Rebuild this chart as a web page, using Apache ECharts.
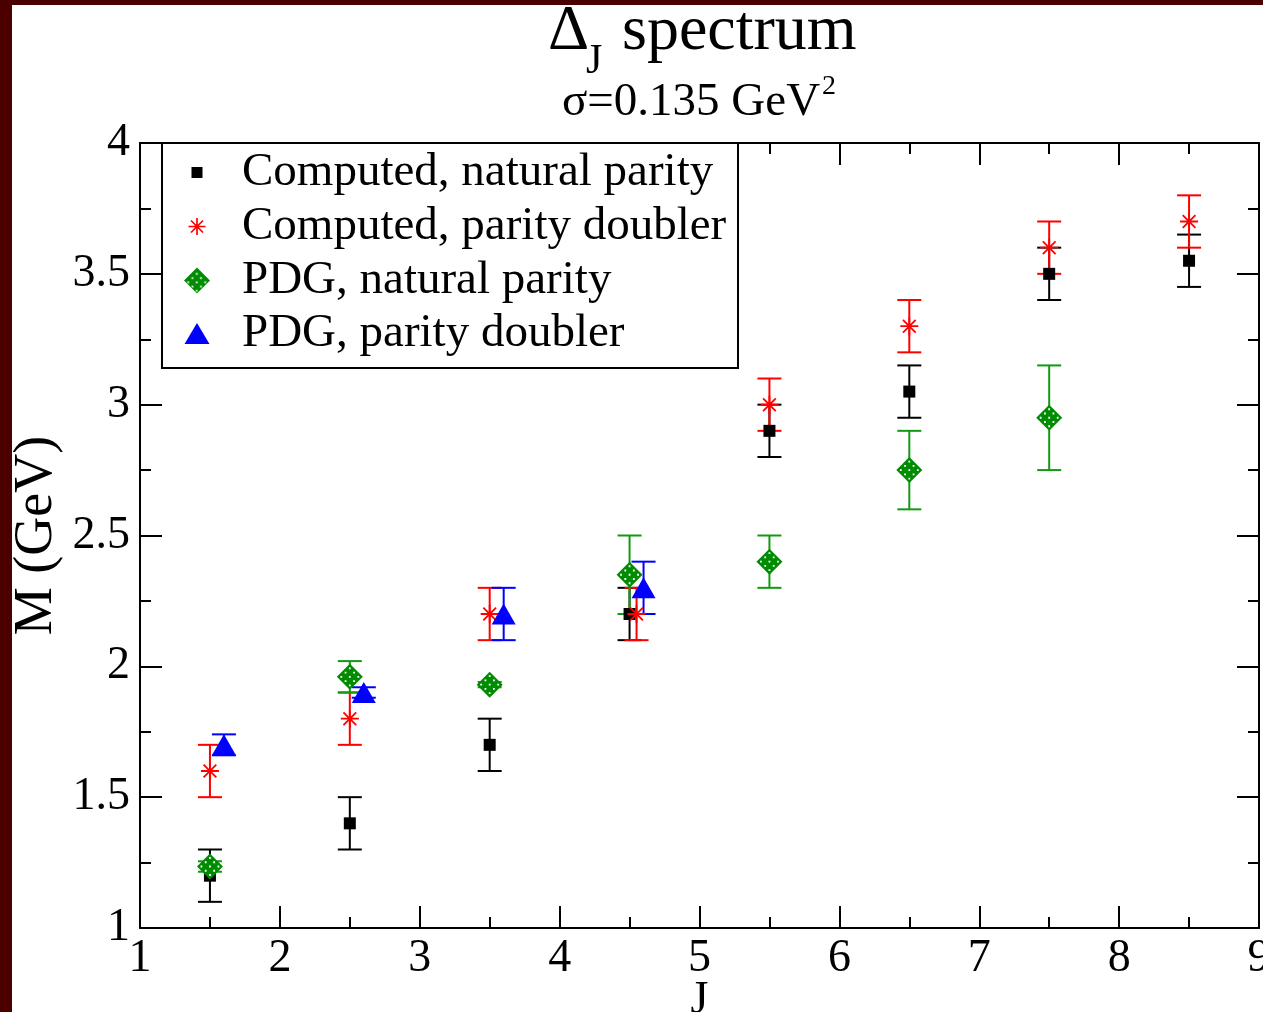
<!DOCTYPE html>
<html>
<head>
<meta charset="utf-8">
<script src="https://cdn.jsdelivr.net/npm/echarts@6/dist/echarts.min.js"></script>
<style>
  html, body { margin: 0; padding: 0; background: #4b0000; width: 1263px; height: 1012px; overflow: hidden; }
  #main { position: absolute; left: 12px; top: 5px; width: 1251px; height: 1007px; background: #fff; }
</style>
</head>
<body>
<div id="main"></div>
<script>
// Computed, natural parity
const natJ = [1.5, 2.5, 3.5, 4.5, 5.5, 6.5, 7.5, 8.5];
const natM = [1.2, 1.4, 1.7, 2.2, 2.9, 3.05, 3.5, 3.55];
const natErr = [0.1, 0.1, 0.1, 0.1, 0.1, 0.1, 0.1, 0.1];

// Computed, parity doubler
const dblJ = [1.5, 2.5, 3.5, 4.55, 5.5, 6.5, 7.5, 8.5];
const dblM = [1.6, 1.8, 2.2, 2.2, 3.0, 3.3, 3.6, 3.7];
const dblErr = [0.1, 0.1, 0.1, 0.1, 0.1, 0.1, 0.1, 0.1];

// PDG, natural parity
const pdgNatJ = [1.5, 2.5, 3.5, 4.5, 5.5, 6.5, 7.5];
const pdgNatM = [1.235, 1.96, 1.93, 2.35, 2.4, 2.75, 2.95];
const pdgNatErr = [0.02, 0.06, 0.01, 0.15, 0.1, 0.15, 0.2];

// PDG, parity doubler
const pdgDblJ = [1.6, 2.6, 3.6, 4.6];
const pdgDblM = [1.7, 1.9, 2.2, 2.3];
const pdgDblErr = [0.04, 0.02, 0.1, 0.1];

const seriesNames = ['Computed, natural parity', 'Computed, parity doubler', 'PDG, natural parity', 'PDG, parity doubler'];

const SQUARE = 'path://M0,0L10,0L10,10L0,10Z';
const STAR = 'path://M9,0L11,0L11,20L9,20Z M0,9L20,9L20,11L0,11Z M2.22,3.64L3.64,2.22L17.78,16.36L16.36,17.78Z M16.36,2.22L17.78,3.64L3.64,17.78L2.22,16.36Z';
const DIAMOND = 'path://M10,0L20,10L10,20L0,10Z';
const TRIANGLE = 'path://M12,0L24,20L0,20Z';

// white dot pattern laid over the green diamonds
const dotCenters = [[13, 13], [17.24, 17.24], [8.76, 8.76], [17.24, 8.76], [8.76, 17.24], [21.5, 13], [4.5, 13], [13, 21.5], [13, 4.5]];
const DOTS = 'path://' + dotCenters.map(function (c) {
  const x = c[0] - 0.9, y = c[1] - 0.9;
  return 'M' + x + ',' + y + 'L' + (x + 1.8) + ',' + y + 'L' + (x + 1.8) + ',' + (y + 1.8) + 'L' + x + ',' + (y + 1.8) + 'Z';
}).join(' ');

const FONT = 'Liberation Serif';

const chart = echarts.init(document.getElementById('main'));

const toPoints = (js, ms) => js.map((j, i) => [j, ms[i]]);
const toBars = (js, ms, es) => js.map((j, i) => [j, ms[i] - es[i], ms[i] + es[i]]);

function renderErrorBar(params, api) {
  const x = api.value(0);
  const lo = api.coord([x, api.value(1)]);
  const hi = api.coord([x, api.value(2)]);
  const half = 12;
  const style = { stroke: api.visual('color'), lineWidth: 2 };
  return {
    type: 'group',
    children: [
      { type: 'line', shape: { x1: lo[0], y1: lo[1], x2: hi[0], y2: hi[1] }, style: style },
      { type: 'line', shape: { x1: lo[0] - half, y1: lo[1], x2: lo[0] + half, y2: lo[1] }, style: style },
      { type: 'line', shape: { x1: hi[0] - half, y1: hi[1], x2: hi[0] + half, y2: hi[1] }, style: style }
    ]
  };
}

const errSeries = (name, color, data) => ({
  name: name,
  type: 'custom',
  renderItem: renderErrorBar,
  itemStyle: { color: color },
  encode: { x: 0, y: [1, 2] },
  data: data,
  silent: true
});

const axisCommon = {
  axisLine: { lineStyle: { color: '#000', width: 2 } },
  axisTick: { inside: true, length: 22, lineStyle: { color: '#000', width: 2 } },
  minorTick: { show: true, splitNumber: 2, length: 11, lineStyle: { color: '#000', width: 2 } },
  splitLine: { show: false },
  minorSplitLine: { show: false }
};

const labelStyle = { fontFamily: FONT, fontSize: 46, color: '#000' };

// one legend per entry so each icon keeps its own size
const legendItem = (name, icon, w, h, centerY) => ({
  data: [{ name: name, icon: icon }],
  left: 185 - w / 2,
  top: centerY - 23,
  itemWidth: w,
  itemHeight: h,
  padding: 0,
  selectedMode: false,
  textStyle: { fontFamily: FONT, fontSize: 47, lineHeight: 46, color: '#000', padding: [0, 0, 0, 40 - w / 2] }
});

const option = {
  animation: false,
  grid: { left: 128, right: 4, top: 138, bottom: 84, outerBoundsMode: 'none' },
  graphic: [
    { type: 'text', x: 536, y: 27, z: 10, style: { text: 'Δ', fontFamily: FONT, fontSize: 64, fill: '#000', verticalAlign: 'middle' } },
    { type: 'text', x: 574, y: 57, z: 10, style: { text: 'J', fontFamily: FONT, fontSize: 42, fill: '#000', verticalAlign: 'middle' } },
    { type: 'text', x: 610, y: 27, z: 10, style: { text: 'spectrum', fontFamily: FONT, fontSize: 64, fill: '#000', verticalAlign: 'middle' } },
    { type: 'text', x: 550, y: 98, z: 10, style: { text: 'σ=0.135 GeV', fontFamily: FONT, fontSize: 47, fill: '#000', verticalAlign: 'middle' } },
    { type: 'text', x: 810, y: 82, z: 10, style: { text: '2', fontFamily: FONT, fontSize: 28, fill: '#000', verticalAlign: 'middle' } },
    {
      type: 'rect', z: 3,
      shape: { x: 150, y: 138, width: 576, height: 225 },
      style: { fill: '#fff', stroke: '#000', lineWidth: 2 }
    }
  ],
  legend: [
    legendItem(seriesNames[0], SQUARE, 11, 11, 167),
    legendItem(seriesNames[1], STAR, 17, 17, 221),
    legendItem(seriesNames[2], DIAMOND, 26, 26, 275),
    legendItem(seriesNames[3], TRIANGLE, 25, 21, 328)
  ],
  xAxis: [
    Object.assign({
      type: 'value', min: 1, max: 9, interval: 1, position: 'bottom',
      name: 'J', nameLocation: 'middle', nameGap: 50, nameMoveOverlap: false,
      nameTextStyle: { fontFamily: FONT, fontSize: 46, color: '#000' },
      axisLabel: Object.assign({ margin: 8, showMinLabel: true, showMaxLabel: true }, labelStyle)
    }, axisCommon),
    Object.assign({
      type: 'value', min: 1, max: 9, interval: 1, position: 'top',
      axisLabel: { show: false }
    }, axisCommon)
  ],
  yAxis: [
    Object.assign({
      type: 'value', min: 1, max: 4, interval: 0.5, position: 'left',
      name: 'M (GeV)', nameLocation: 'middle', nameGap: 76, nameRotate: 90, nameMoveOverlap: false,
      nameTextStyle: { fontFamily: FONT, fontSize: 54, color: '#000' },
      axisLabel: Object.assign({ margin: 10, showMinLabel: true, showMaxLabel: true }, labelStyle)
    }, axisCommon),
    Object.assign({
      type: 'value', min: 1, max: 4, interval: 0.5, position: 'right',
      axisLabel: { show: false }
    }, axisCommon)
  ],
  series: [
    errSeries('err-nat', '#000000', toBars(natJ, natM, natErr)),
    {
      name: seriesNames[0], type: 'scatter', symbol: SQUARE, symbolSize: 12,
      itemStyle: { color: '#000000', opacity: 1 },
      data: toPoints(natJ, natM)
    },
    errSeries('err-dbl', '#ff0000', toBars(dblJ, dblM, dblErr)),
    {
      name: seriesNames[1], type: 'scatter', symbol: STAR, symbolSize: 18,
      itemStyle: { color: '#ff0000', opacity: 1 },
      data: toPoints(dblJ, dblM)
    },
    errSeries('err-pdgnat', '#119a11', toBars(pdgNatJ, pdgNatM, pdgNatErr)),
    {
      name: seriesNames[2], type: 'scatter', symbol: DIAMOND, symbolSize: 26,
      itemStyle: {
        color: '#008c00', opacity: 1,
        decal: {
          symbol: 'circle', symbolSize: 0.7, color: '#ffffff', backgroundColor: null,
          dashArrayX: [3, 3], dashArrayY: [3, 3], rotation: Math.PI / 4
        }
      },
      data: toPoints(pdgNatJ, pdgNatM)
    },
    {
      name: 'pdg-nat-dots', type: 'scatter', symbol: DOTS, symbolSize: 18.8,
      itemStyle: { color: '#ffffff', opacity: 1 },
      silent: true,
      data: toPoints(pdgNatJ, pdgNatM)
    },
    errSeries('err-pdgdbl', '#0000ff', toBars(pdgDblJ, pdgDblM, pdgDblErr)),
    {
      name: seriesNames[3], type: 'scatter', symbol: TRIANGLE, symbolSize: [24, 21],
      itemStyle: { color: '#0000ff', opacity: 1 },
      data: toPoints(pdgDblJ, pdgDblM)
    }
  ]
};

chart.setOption(option);
</script>
</body>
</html>
